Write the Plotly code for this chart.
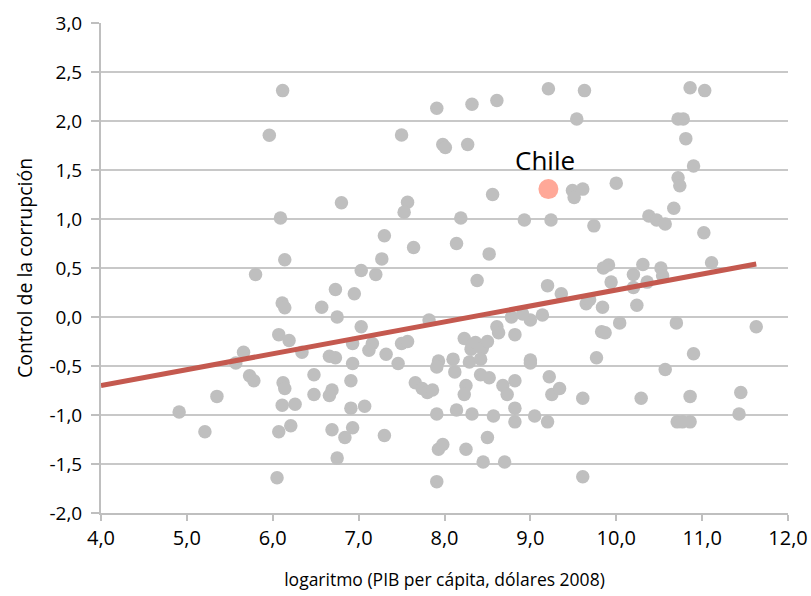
import plotly.graph_objects as go

# Log GDP per capita (x) and control of corruption (y) for each country
gdp_log = [
    6.115, 5.96, 6.80, 6.09, 6.14,
    5.80, 6.73, 6.11, 6.14, 6.57, 6.75, 6.07, 6.19, 6.34, 6.66, 6.73, 5.66, 5.57, 5.73, 5.78,
    6.12, 6.14, 6.48, 6.48, 6.69, 6.66, 5.35, 4.91, 6.11, 6.26, 5.21, 6.07, 6.21, 6.69, 6.84,
    6.75, 6.05,
    8.52, 7.03, 7.20, 7.27, 6.95, 8.38, 9.20, 9.36, 7.03, 6.93, 7.16, 7.12, 7.32, 7.50, 7.57,
    6.93, 7.46, 7.82, 6.91, 7.66, 7.74, 7.80, 7.86, 6.91, 7.07, 6.93, 7.30, 7.91, 8.14, 8.32,
    8.57, 8.82, 8.82, 9.05, 9.20, 7.93, 7.98, 8.25, 8.50, 8.45, 8.70, 7.91, 7.93, 7.91, 8.10,
    8.12, 8.23, 8.32, 8.31, 8.36, 8.44, 8.50, 8.29, 8.42, 8.42, 8.52, 8.25, 8.23, 8.68, 8.73,
    8.82, 8.61, 8.63, 8.82, 8.78, 9.00, 8.91, 9.14, 9.00, 9.00, 9.22, 9.25, 9.34,
    9.21, 7.91, 8.32, 8.61, 7.50, 7.98, 8.01, 8.27, 7.57, 7.53, 8.56, 8.19, 8.93, 9.24, 7.30,
    7.64, 8.14,
    9.63, 10.86, 11.03, 9.54, 10.72, 10.78, 10.81, 10.90, 10.72, 10.74, 9.49, 9.61, 9.51,
    10.00, 10.67, 10.38, 10.47, 10.57, 9.74, 11.02,
    9.91, 9.85, 10.31, 10.52, 10.54, 11.11, 10.20, 9.94, 10.36, 10.20, 9.65, 9.69, 9.84,
    10.24, 10.04, 10.70, 11.63, 9.83, 9.87, 9.77, 10.57, 10.90, 9.61, 10.29, 10.86, 11.45,
    11.43, 10.71, 10.77, 10.86, 9.61,
]
corruption = [
    2.31, 1.855, 1.166, 1.01, 0.585,
    0.434, 0.28, 0.142, 0.095, 0.10, 0.0, -0.18, -0.24, -0.36, -0.40, -0.415, -0.36, -0.47,
    -0.60, -0.65, -0.67, -0.73, -0.59, -0.79, -0.745, -0.80, -0.81, -0.97, -0.90, -0.89,
    -1.17, -1.17, -1.11, -1.15, -1.23, -1.44, -1.64,
    0.644, 0.475, 0.434, 0.593, 0.238, 0.373, 0.32, 0.238, -0.10, -0.27, -0.27, -0.34, -0.38,
    -0.27, -0.25, -0.475, -0.475, -0.03, -0.65, -0.67, -0.73, -0.77, -0.745, -0.93, -0.91,
    -1.13, -1.21, -0.99, -0.95, -0.99, -1.01, -0.93, -1.07, -1.01, -1.07, -1.35, -1.30, -1.35,
    -1.23, -1.48, -1.48, -1.68, -0.45, -0.51, -0.43, -0.56, -0.22, -0.29, -0.33, -0.26, -0.32,
    -0.25, -0.46, -0.43, -0.59, -0.62, -0.70, -0.79, -0.70, -0.79, -0.65, -0.10, -0.16, -0.18,
    0.0, -0.03, 0.03, 0.02, -0.44, -0.47, -0.61, -0.79, -0.73,
    2.33, 2.13, 2.17, 2.21, 1.857, 1.76, 1.73, 1.76, 1.17, 1.07, 1.25, 1.01, 0.99, 0.99, 0.83,
    0.71, 0.75,
    2.31, 2.34, 2.31, 2.02, 2.02, 2.02, 1.82, 1.54, 1.42, 1.34, 1.29, 1.305, 1.22, 1.366,
    1.11, 1.03, 0.99, 0.95, 0.93, 0.86,
    0.53, 0.50, 0.535, 0.50, 0.42, 0.553, 0.434, 0.356, 0.356, 0.30, 0.136, 0.177, 0.10,
    0.12, -0.06, -0.06, -0.10, -0.15, -0.16, -0.415, -0.535, -0.376, -0.83, -0.83, -0.81,
    -0.77, -0.99, -1.07, -1.07, -1.07, -1.63,
]

chile_x = [9.21]
chile_y = [1.305]
chile_label = "Chile"

trend_x = [4.0, 11.63]
trend_y = [-0.70, 0.54]

x_tickvals = [4, 5, 6, 7, 8, 9, 10, 11, 12]
x_ticktext = ["4,0", "5,0", "6,0", "7,0", "8,0", "9,0", "10,0", "11,0", "12,0"]
y_tickvals = [3, 2.5, 2, 1.5, 1, 0.5, 0, -0.5, -1, -1.5, -2]
y_ticktext = ["3,0", "2,5", "2,0", "1,5", "1,0", "0,5", "0,0", "-0,5", "-1,0", "-1,5", "-2,0"]

x_title = "logaritmo (PIB per cápita, dólares 2008)"
y_title = "Control de la corrupción"

FONT = "Open Sans"
AXIS_GRAY = "#BFBFBF"

fig = go.Figure()
fig.add_trace(go.Scatter(
    x=gdp_log, y=corruption, mode="markers",
    marker=dict(color="#BFBFBF", size=13.5, line=dict(width=0)),
    showlegend=False, hoverinfo="x+y",
))
fig.add_trace(go.Scatter(
    x=trend_x, y=trend_y, mode="lines",
    line=dict(color="#C4594F", width=5),
    showlegend=False, hoverinfo="skip",
))
fig.add_trace(go.Scatter(
    x=chile_x, y=chile_y, mode="markers",
    marker=dict(color="#FFA898", size=20, line=dict(width=0)),
    showlegend=False, hoverinfo="x+y",
))
fig.add_annotation(
    x=chile_x[0], y=chile_y[0], text=chile_label, showarrow=False,
    yshift=29, xshift=-3, font=dict(family=FONT, size=26, color="#000000"),
)

fig.update_layout(
    width=811, height=596,
    margin=dict(l=101, r=23, t=23, b=83, autoexpand=False),
    paper_bgcolor="white", plot_bgcolor="white",
    font=dict(family=FONT, size=19, color="#000000"),
    xaxis=dict(
        range=[4, 12], tickvals=x_tickvals, ticktext=x_ticktext,
        showgrid=False, zeroline=False, automargin=False,
        showline=True, linecolor=AXIS_GRAY, linewidth=2,
        ticks="outside", ticklen=6, tickcolor=AXIS_GRAY, tickwidth=1.5,
        tickfont=dict(family=FONT, size=20),
        title=dict(text=x_title, font=dict(family=FONT, size=17.5), standoff=24),
    ),
    yaxis=dict(
        range=[-2, 3], tickvals=y_tickvals, ticktext=y_ticktext,
        showgrid=True, gridcolor="#C8C8C8", gridwidth=1.5, zeroline=False, automargin=False,
        showline=True, linecolor=AXIS_GRAY, linewidth=2,
        ticks="outside", ticklen=8, tickcolor=AXIS_GRAY, tickwidth=1.5,
        tickfont=dict(family=FONT, size=19),
        ticklabelstandoff=5,
        title=dict(text=y_title, font=dict(family=FONT, size=19.5), standoff=12),
    ),
)

fig.write_html("out.html", config={"displayModeBar": False},
               post_script="document.body.style.margin='0';")
